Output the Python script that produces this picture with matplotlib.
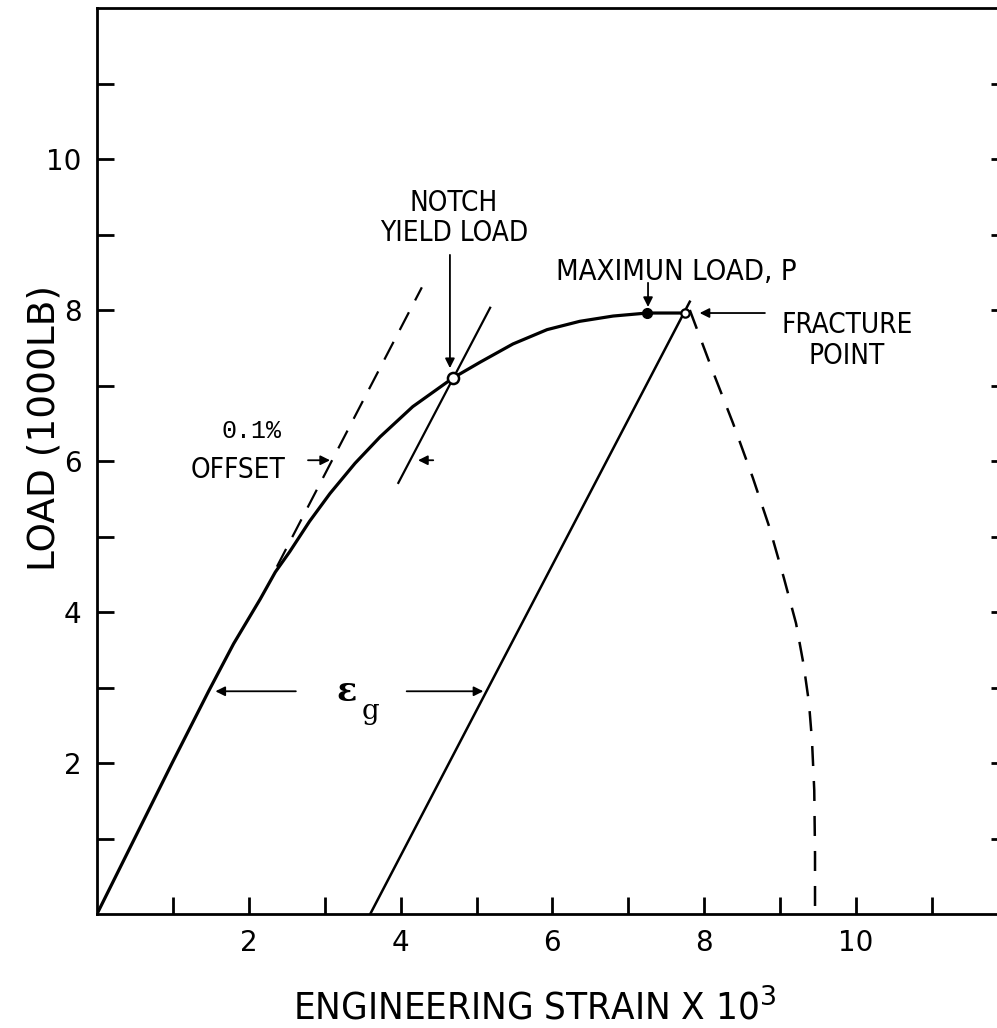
import matplotlib
matplotlib.use("Agg")
import matplotlib.pyplot as plt

# Yuk - birim sekil egrisi (okunan degerler)
egri_x = [0, 0.99, 1.47, 1.80, 2.15, 2.35, 2.54, 2.80, 3.07, 3.40, 3.73, 4.16, 4.69,
          5.05, 5.48, 5.93, 6.36, 6.80, 7.25, 7.75]
egri_y = [0, 2.0, 2.95, 3.58, 4.17, 4.53, 4.80, 5.20, 5.57, 5.97, 6.32, 6.72, 7.10,
          7.31, 7.55, 7.74, 7.85, 7.92, 7.96, 7.96]

# elastik dogru uzantisi (kesikli) ve %0.1 offset dogrusu
elastik_x = [2.37, 4.28]
elastik_y = [4.60, 8.30]
offset_x = [3.97, 5.18]
offset_y = [5.71, 8.03]

# bosaltma dogrusu
bosaltma_x = [3.60, 7.81]
bosaltma_y = [0, 8.11]

# kirilma sonrasi (kesikli)
kirilma_x = [7.81, 8.12, 8.38, 8.64, 8.86, 9.05, 9.21, 9.31, 9.38, 9.42, 9.45, 9.46, 9.46]
kirilma_y = [8.0, 7.17, 6.50, 5.78, 5.12, 4.45, 3.85, 3.30, 2.80, 2.30, 1.64, 0.80, 0]

# ozel noktalar
centik_akma = (4.69, 7.10)
maks_yuk = (7.25, 7.96)
kirilma_nokta = (7.75, 7.96)

x_ticks = list(range(1, 12))
x_etiket = ["" if t % 2 else str(t) for t in x_ticks]
y_ticks = list(range(1, 12))
y_etiket = ["" if t % 2 else str(t) for t in y_ticks]

DAR = ["DejaVu Sans"]
MONO = ["Liberation Mono", "DejaVu Sans Mono"]
plt.rcParams["mathtext.fontset"] = "custom"
plt.rcParams["mathtext.rm"] = "DejaVu Sans"

fig = plt.figure(figsize=(9.97, 10.28), dpi=100)
ax = fig.add_axes([97 / 997, 114 / 1028, 12 * 75.9 / 997, 906 / 1028])
ax.set_xlim(0, 12)
ax.set_ylim(0, 12)

# cizgiler
ax.plot(egri_x, egri_y, color="black", lw=2.3, solid_joinstyle="round")
ax.plot(elastik_x, elastik_y, color="black", lw=1.6, dashes=(9, 6))
ax.plot(offset_x, offset_y, color="black", lw=1.6)
ax.plot(bosaltma_x, bosaltma_y, color="black", lw=1.8)
ax.plot(kirilma_x, kirilma_y, color="black", lw=1.8, dashes=(8, 6))

ax.plot(*centik_akma, "o", ms=8, mfc="white", mec="black", mew=1.8)
ax.plot(*maks_yuk, "o", ms=7, color="black")
ax.plot(*kirilma_nokta, "o", ms=6, mfc="white", mec="black", mew=1.6)

# oklar
ok = dict(arrowstyle="-|>", color="black", lw=1.3, mutation_scale=14, shrinkA=0, shrinkB=0)
ax.annotate("", xy=(4.65, 7.23), xytext=(4.65, 8.73), arrowprops=ok)
ax.annotate("", xy=(7.26, 8.04), xytext=(7.26, 8.36), arrowprops=ok)
ax.annotate("", xy=(7.94, 7.96), xytext=(8.80, 7.96), arrowprops=ok)
ax.annotate("", xy=(3.07, 6.01), xytext=(2.78, 6.01), arrowprops=ok)
ax.annotate("", xy=(4.23, 6.01), xytext=(4.43, 6.01), arrowprops=ok)
ax.annotate("", xy=(1.56, 2.95), xytext=(2.62, 2.95), arrowprops=ok)
ax.annotate("", xy=(5.09, 2.95), xytext=(4.08, 2.95), arrowprops=ok)

# yazilar (dar yazi tipi)
yazi = dict(ha="center", va="center", family=DAR, fontstretch="condensed")
ax.text(4.70, 9.22, "NOTCH\nYIELD LOAD", fontsize=20, linespacing=1.1, **yazi)
ax.text(7.63, 8.50, "MAXIMUN LOAD, P", fontsize=21, **yazi)
ax.text(9.88, 7.60, "FRACTURE\nPOINT", fontsize=20, linespacing=1.15, **yazi)
ax.text(1.86, 5.88, "OFFSET", fontsize=20, **yazi)
ax.text(2.04, 6.40, "0.1%", ha="center", va="center", fontsize=18, family=MONO)
ax.text(3.29, 2.95, "\u03b5", ha="center", va="center", fontsize=24,
        family=["DejaVu Serif"], fontweight="bold")
ax.text(3.61, 2.68, "g", ha="center", va="center", fontsize=20, family=["DejaVu Serif"])

# eksenler
for s in ["left", "bottom", "top"]:
    ax.spines[s].set_linewidth(2.0)
ax.spines["right"].set_visible(False)

ax.set_xticks(x_ticks)
ax.set_xticklabels(x_etiket)
ax.set_yticks(y_ticks)
ax.set_yticklabels(y_etiket)
ax.tick_params(axis="both", direction="in", length=12, width=2.0, labelsize=20, pad=11)
ax.tick_params(axis="y", right=True, left=True)
ax.tick_params(axis="x", top=False)

# eksen basliklari
fig.text(535 / 997, 1 - 1020 / 1028, r"ENGINEERING STRAIN X 10$^{3}$", ha="center",
         va="baseline", fontsize=27.5, family=DAR, fontstretch="condensed")
fig.text(44 / 997, 1 - 428 / 1028, "LOAD (1000LB)", ha="center", va="center",
         rotation=90, fontsize=27, family=DAR)

plt.savefig("out.png", dpi=100)
plt.close()
